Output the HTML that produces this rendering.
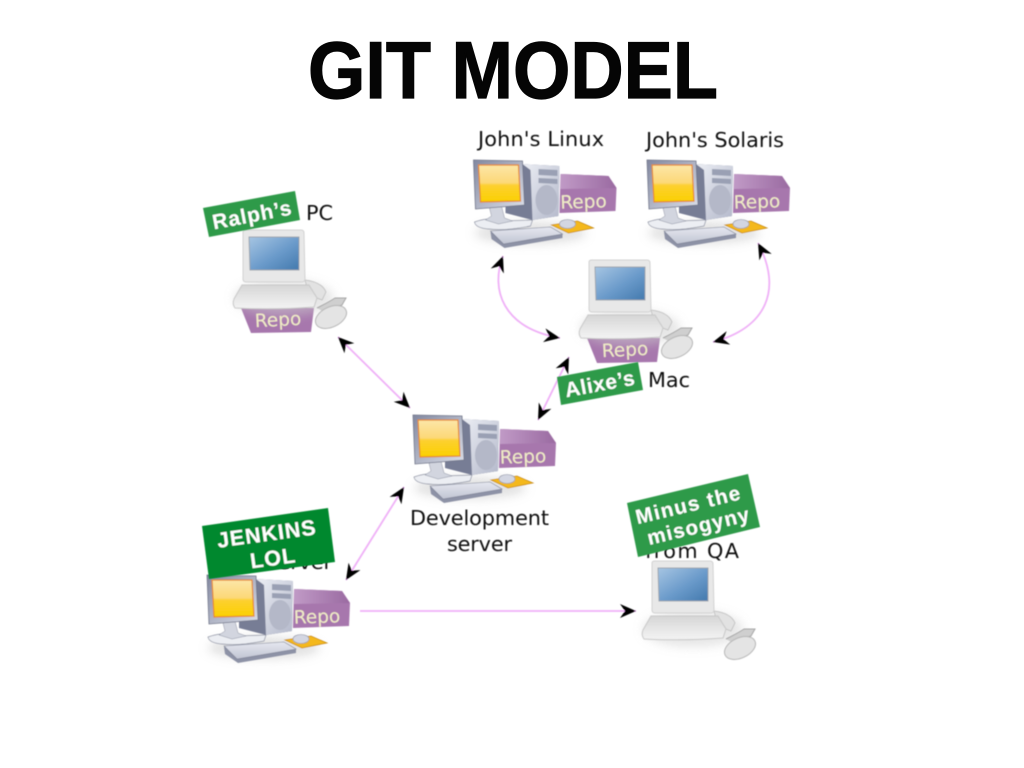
<!DOCTYPE html>
<html lang="en">
<head>
<meta charset="utf-8">
<title>Git Model</title>
<style>
html,body{margin:0;padding:0;background:#fff;width:1024px;height:768px;overflow:hidden}
svg{display:block}
.lbl{font-family:"DejaVu Sans","Liberation Sans",sans-serif;font-size:20.8px;fill:#111}
.tag{font-family:"Liberation Sans",sans-serif;font-weight:700;fill:#fff;text-anchor:middle}
.repo{font-family:"DejaVu Sans","Liberation Sans",sans-serif;font-size:18.5px;fill:#f1edc6;text-anchor:middle}
</style>
</head>
<body>
<svg width="1024" height="768" viewBox="0 0 1024 768" xmlns="http://www.w3.org/2000/svg">
<defs>
  <filter id="soft" x="-5%" y="-5%" width="110%" height="110%"><feGaussianBlur stdDeviation="0.4"/></filter>
  <filter id="shadow" x="-30%" y="-50%" width="160%" height="200%"><feGaussianBlur stdDeviation="5"/></filter>
  <linearGradient id="yel" x1="0" y1="0" x2="0" y2="1"><stop offset="0" stop-color="#fde6a8"/><stop offset=".48" stop-color="#fcd878"/><stop offset=".55" stop-color="#fdd030"/><stop offset="1" stop-color="#fbd000"/></linearGradient>
  <linearGradient id="tower" x1="0" y1="0" x2="1" y2="1"><stop offset="0" stop-color="#eceef4"/><stop offset="1" stop-color="#b4b9cb"/></linearGradient>
  <linearGradient id="mon" x1="0" y1="0" x2="1" y2="1"><stop offset="0" stop-color="#8288a0"/><stop offset="1" stop-color="#dcdfe9"/></linearGradient>
  <linearGradient id="rtop" x1="0" y1="0" x2="1" y2="0"><stop offset="0" stop-color="#c09ac6"/><stop offset="1" stop-color="#9a6aa1"/></linearGradient>
  <linearGradient id="blue" x1="0" y1="0" x2="1" y2="1"><stop offset="0" stop-color="#a6c5e3"/><stop offset=".55" stop-color="#6a9aca"/><stop offset="1" stop-color="#4379ad"/></linearGradient>
  <linearGradient id="base" x1="0" y1="0" x2="0" y2="1"><stop offset="0" stop-color="#d6d6d6"/><stop offset="1" stop-color="#f4f4f4"/></linearGradient>
  <linearGradient id="kbd" x1="0" y1="0" x2="0" y2="1"><stop offset="0" stop-color="#e6e8f0"/><stop offset="1" stop-color="#c0c4d2"/></linearGradient>
  <marker id="ah" markerUnits="userSpaceOnUse" viewBox="-17 -8 19 16" markerWidth="19" markerHeight="16" refX="0" refY="0" orient="auto-start-reverse">
    <path d="M0 0L-16 -7L-11 0L-16 7Z" fill="#050505"/>
  </marker>

  <g id="desk">
    <ellipse cx="470" cy="488" rx="56" ry="11" fill="#c4c4c4" opacity=".5" filter="url(#shadow)"/>
    <path d="M500 429L548 431L556 443L555 466L499 468Z" fill="#a777ad"/>
    <path d="M500 429L548 431L556 443L500 444Z" fill="url(#rtop)"/>
    <path d="M414 477Q430 471 445 476L472 475L470 481Q445 486 428 484Q415 483 414 477Z" fill="#eceef3" stroke="#8a8fa0" stroke-width=".7"/>
    <path d="M445 432L462 419L499 421L498 471L472 475L445 468Z" fill="#777d95"/>
    <path d="M462 419L499 421L498 471L472 475L470 425Z" fill="url(#tower)"/>
    <ellipse cx="486" cy="455" rx="11" ry="15" fill="#b4b8c8"/>
    <path d="M478 424L497 425L497 431L478 430ZM478 433L497 434L497 439L478 438Z" fill="#9aa0b4"/>
    <path d="M429 463L441 461L444 473L452 476L438 479L425 475L431 471Z" fill="#d2d5df" stroke="#8a8fa0" stroke-width=".5"/>
    <path d="M413 415L462 416L464 460L415 464Z" fill="url(#mon)" stroke="#6f7488" stroke-width=".8"/>
    <path d="M418 420L458 420L460 456L420 457Z" fill="url(#yel)" stroke="#e5862a" stroke-width="1.2"/>
    <path d="M491 480L517 476L533 483L508 488Z" fill="#f4b81e" stroke="#c98d12" stroke-width=".8"/>
    <ellipse cx="507" cy="479" rx="8" ry="4.5" fill="#d3d6e2" stroke="#8a8fa0" stroke-width=".6"/>
    <path d="M430 487L490 482L502 489L502 493L444 503L431 494Z" fill="#8d92a6"/>
    <path d="M430 486L490 482L502 489L443 499Z" fill="url(#kbd)" stroke="#7a7f93" stroke-width=".6"/>
    <text class="repo" x="523" y="463" transform="rotate(-2 523 457)">Repo</text>
  </g>

  <g id="macbody">
    <ellipse cx="630" cy="328" rx="50" ry="18" fill="#cdcdcd" opacity=".5" filter="url(#shadow)"/>
    <path d="M651 310Q668 312 672 322L668 330L655 325Z" fill="#e2e2e2" stroke="#bdbdbd" stroke-width=".8"/>
    <path d="M589 262Q589 260 592 260L647 260Q650 260 650 263L651 309Q651 312 648 312L592 312Q589 312 589 309Z" fill="#e8e8e8" stroke="#d2d2d2"/>
    <path d="M595 267L645 267L645 300L596 300Z" fill="url(#blue)" stroke="#9da4ad"/>
    <path d="M588 315L655 315L663 328L660 337Q620 340 581 338Q578 334 580 329Z" fill="url(#base)" stroke="#c8c8c8"/>
    <path d="M663 338Q675 332 681 328L692 328L688 335L670 342" fill="#cfcfcf" stroke="#a5a5a5" stroke-width="1"/>
    <ellipse cx="677" cy="347" rx="16.5" ry="10" transform="rotate(-25 677 347)" fill="#e4e4e4" stroke="#b5b5b5"/>
  </g>
  <path id="macrepo" d="M587 338L660 338L657 362L597 363Z" fill="#a777ad"/>
</defs>

<rect width="1024" height="768" fill="#fff"/>

<g filter="url(#soft)">
  <use href="#desk" x="0" y="0"/>
  <use href="#desk" x="60.5" y="-255"/>
  <use href="#desk" x="234" y="-255"/>
  <use href="#desk" x="-206" y="160"/>

  <use href="#macrepo"/>
  <use href="#macbody"/>
  <text class="repo" x="625" y="356" transform="rotate(-3 625 350)">Repo</text>

  <use href="#macrepo" x="-346" y="-30"/>
  <use href="#macbody" x="-346" y="-30"/>
  <text class="repo" x="278" y="326" transform="rotate(-3 278 320)">Repo</text>

  <use href="#macbody" x="63" y="301"/>

  <g fill="none" stroke="#efb0f7" stroke-width="1.8" marker-start="url(#ah)" marker-end="url(#ah)">
    <path d="M338 337L410 408"/>
    <path d="M569 357L538 420"/>
    <path d="M404 487L346 580"/>
    <path d="M503 256C490 290 503 328 560 338"/>
    <path d="M758 243C783 290 766 328 713 342"/>
  </g>
  <path d="M360 611L636 611" fill="none" stroke="#efb0f7" stroke-width="1.8" marker-end="url(#ah)"/>

  <text class="lbl" x="478" y="146" textLength="126">John's Linux</text>
  <text class="lbl" x="646" y="147" textLength="138">John's Solaris</text>
  <text class="lbl" x="306" y="220" textLength="27">PC</text>
  <text class="lbl" x="648" y="387" textLength="42">Mac</text>
  <text class="lbl" x="410" y="525" textLength="139">Development</text>
  <text class="lbl" x="447" y="551" textLength="65">server</text>
  <text class="lbl" x="645" y="558" textLength="94">from QA</text>
  <text class="lbl" x="267" y="569" textLength="65">server</text>
</g>

<text x="308" y="98" font-family="'Liberation Sans',sans-serif" font-weight="700" font-size="81" fill="#050505" stroke="#050505" stroke-width="1.2" textLength="410" lengthAdjust="spacingAndGlyphs">GIT MODEL</text>

<g filter="url(#soft)">
  <polygon points="203,208 295,191 300,220 209,237" fill="#2f9a4a"/>
  <text class="tag" font-size="21" x="252" y="222" transform="rotate(-10.9 252 214)" letter-spacing=".8">Ralph’s</text>

  <polygon points="557,377 638,362 643,390 561,405" fill="#2f9a4a"/>
  <text class="tag" font-size="21" x="600" y="391" transform="rotate(-10.5 600 384)" letter-spacing=".6">Alixe’s</text>

  <polygon points="202,526 328,508 335,562 209,579" fill="#04882f"/>
  <text class="tag" font-size="21.5" x="268" y="541" transform="rotate(-7.8 268 543)" letter-spacing="1">JENKINS</text>
  <text class="tag" font-size="21.5" x="271" y="566" transform="rotate(-7.8 268 543)" letter-spacing="1">LOL</text>

  <polygon points="627,503 748,474 760,527 638,557" fill="#2f9a4a"/>
  <text class="tag" font-size="20.5" x="691" y="511" transform="rotate(-13.5 693 515)" letter-spacing="1.4">Minus the</text>
  <text class="tag" font-size="20.5" x="696" y="534" transform="rotate(-13.5 693 515)" letter-spacing="1.2">misogyny</text>
</g>
</svg>
</body>
</html>
